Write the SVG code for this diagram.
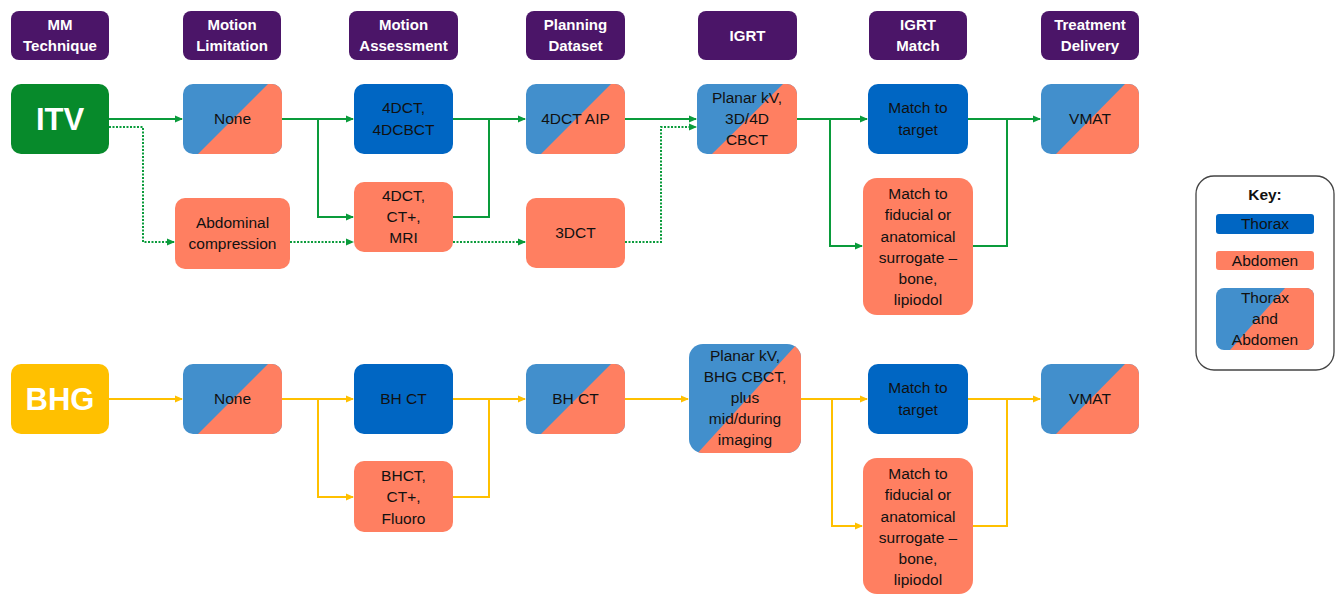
<svg xmlns="http://www.w3.org/2000/svg" width="1335" height="594" viewBox="0 0 1335 594">
<style>
text{font-family:"Liberation Sans",Arial,sans-serif;font-size:15.5px;fill:#111;text-anchor:middle}
.hd{fill:#4B1568}
.hdt{fill:#fff;font-weight:bold;font-size:15px}
.big{fill:#fff;font-weight:bold;font-size:31px}
.th{fill:#0066C3}
.lb{fill:#428FCC}
.ab{fill:#FF7F61}
.g{fill:none;stroke:#0A9B3B;stroke-width:2}
.gd{fill:none;stroke:#0A9B3B;stroke-width:2;stroke-dasharray:2 1.5}
.y{fill:none;stroke:#FFC000;stroke-width:2}
</style>
<defs>
<marker id="ag" markerWidth="8" markerHeight="8" refX="7" refY="4" orient="auto" markerUnits="userSpaceOnUse"><path d="M0,0.5 L8,4 L0,7.5 z" fill="#0A9B3B"/></marker>
<marker id="ay" markerWidth="8" markerHeight="8" refX="7" refY="4" orient="auto" markerUnits="userSpaceOnUse"><path d="M0,0.5 L8,4 L0,7.5 z" fill="#FFC000"/></marker>
<clipPath id="cpPlanar"><rect x="689" y="344" width="112" height="109" rx="14"/></clipPath>
</defs>

<g id="headers">
<g id="h1"><rect class="hd" x="11" y="11" width="98" height="49" rx="8"/><text class="hdt" x="60" y="30">MM</text><text class="hdt" x="60" y="51">Technique</text></g>
<g id="h2"><rect class="hd" x="183" y="11" width="98" height="49" rx="8"/><text class="hdt" x="232" y="30">Motion</text><text class="hdt" x="232" y="51">Limitation</text></g>
<g id="h3"><rect class="hd" x="349" y="11" width="109" height="49" rx="8"/><text class="hdt" x="403.5" y="30">Motion</text><text class="hdt" x="403.5" y="51">Assessment</text></g>
<g id="h4"><rect class="hd" x="526" y="11" width="99" height="49" rx="8"/><text class="hdt" x="575.5" y="30">Planning</text><text class="hdt" x="575.5" y="51">Dataset</text></g>
<g id="h5"><rect class="hd" x="698" y="11" width="99" height="49" rx="8"/><text class="hdt" x="747.5" y="41">IGRT</text></g>
<g id="h6"><rect class="hd" x="869" y="11" width="98" height="49" rx="8"/><text class="hdt" x="918" y="30">IGRT</text><text class="hdt" x="918" y="51">Match</text></g>
<g id="h7"><rect class="hd" x="1041" y="11" width="98" height="49" rx="8"/><text class="hdt" x="1090" y="30">Treatment</text><text class="hdt" x="1090" y="51">Delivery</text></g>
</g>

<g id="connectors">
<path class="g" d="M109,119 H182" marker-end="url(#ag)"/>
<path class="g" d="M282,119 H353" marker-end="url(#ag)"/>
<path class="g" d="M318,119 V217 H353" marker-end="url(#ag)"/>
<path class="g" d="M453,119 H525" marker-end="url(#ag)"/>
<path class="g" d="M453,217 H489 V119"/>
<path class="g" d="M625,119 H696" marker-end="url(#ag)"/>
<path class="g" d="M797,119 H867" marker-end="url(#ag)"/>
<path class="g" d="M830,119 V246 H862" marker-end="url(#ag)"/>
<path class="g" d="M968,119 H1040" marker-end="url(#ag)"/>
<path class="g" d="M973,246 H1007 V119"/>
<path class="gd" d="M109,127 H143 V242 H174" marker-end="url(#ag)"/>
<path class="gd" d="M290,242 H353" marker-end="url(#ag)"/>
<path class="gd" d="M453,242 H525" marker-end="url(#ag)"/>
<path class="gd" d="M625,242 H661 V127 H696" marker-end="url(#ag)"/>
<path class="y" d="M109,399 H182" marker-end="url(#ay)"/>
<path class="y" d="M282,399 H353" marker-end="url(#ay)"/>
<path class="y" d="M318,399 V497 H353" marker-end="url(#ay)"/>
<path class="y" d="M453,399 H525" marker-end="url(#ay)"/>
<path class="y" d="M453,497 H489 V399"/>
<path class="y" d="M625,399 H688" marker-end="url(#ay)"/>
<path class="y" d="M801,399 H867" marker-end="url(#ay)"/>
<path class="y" d="M832,399 V526 H862" marker-end="url(#ay)"/>
<path class="y" d="M968,399 H1040" marker-end="url(#ay)"/>
<path class="y" d="M973,526 H1007 V399"/>
</g>

<g id="itv"><rect x="11" y="84" width="98" height="70" rx="10" fill="#078A2B"/><text class="big" x="60" y="130">ITV</text></g>
<g id="itv-none"><rect class="lb" x="183" y="84" width="99" height="70" rx="10"/><path class="ab" d="M268,84 H272 A10,10 0 0 1 282,94 V144 A10,10 0 0 1 272,154 H198 Z"/><text x="232.5" y="124">None</text></g>
<g id="itv-4dct"><rect class="th" x="354" y="84" width="99" height="70" rx="10"/><text x="403.5" y="113">4DCT,</text><text x="403.5" y="135">4DCBCT</text></g>
<g id="itv-aip"><rect class="lb" x="526" y="84" width="99" height="70" rx="10"/><path class="ab" d="M611,84 H615 A10,10 0 0 1 625,94 V144 A10,10 0 0 1 615,154 H541 Z"/><text x="575.5" y="124">4DCT AIP</text></g>
<g id="itv-planar"><rect class="lb" x="697" y="84" width="100" height="70" rx="10"/><path class="ab" d="M783,84 H787 A10,10 0 0 1 797,94 V144 A10,10 0 0 1 787,154 H712 Z"/><text x="747" y="103">Planar kV,</text><text x="747" y="124">3D/4D</text><text x="747" y="145">CBCT</text></g>
<g id="itv-match"><rect class="th" x="868" y="84" width="100" height="70" rx="10"/><text x="918" y="113">Match to</text><text x="918" y="135">target</text></g>
<g id="itv-vmat"><rect class="lb" x="1041" y="84" width="98" height="70" rx="10"/><path class="ab" d="M1125,84 H1129 A10,10 0 0 1 1139,94 V144 A10,10 0 0 1 1129,154 H1056 Z"/><text x="1090" y="124">VMAT</text></g>
<g id="itv-abd"><rect class="ab" x="175" y="198" width="115" height="71" rx="10"/><text x="232.5" y="228">Abdominal</text><text x="232.5" y="249">compression</text></g>
<g id="itv-mri"><rect class="ab" x="354" y="182" width="99" height="70" rx="10"/><text x="403.5" y="201">4DCT,</text><text x="403.5" y="222">CT+,</text><text x="403.5" y="243">MRI</text></g>
<g id="itv-3dct"><rect class="ab" x="526" y="198" width="99" height="70" rx="10"/><text x="575.5" y="238">3DCT</text></g>
<g id="itv-fid"><rect class="ab" x="863" y="178" width="110" height="137" rx="14"/><text x="918" y="199">Match to</text><text x="918" y="220">fiducial or</text><text x="918" y="241.5">anatomical</text><text x="918" y="263">surrogate –</text><text x="918" y="284">bone,</text><text x="918" y="305">lipiodol</text></g>

<g id="bhg"><rect x="11" y="364" width="98" height="70" rx="10" fill="#FFC000"/><text class="big" x="60" y="410">BHG</text></g>
<g id="bhg-none"><rect class="lb" x="183" y="364" width="99" height="70" rx="10"/><path class="ab" d="M268,364 H272 A10,10 0 0 1 282,374 V424 A10,10 0 0 1 272,434 H198 Z"/><text x="232.5" y="404">None</text></g>
<g id="bhg-bhct"><rect class="th" x="354" y="364" width="99" height="70" rx="10"/><text x="403.5" y="404">BH CT</text></g>
<g id="bhg-fluoro"><rect class="ab" x="354" y="461" width="99" height="71" rx="10"/><text x="403.5" y="481">BHCT,</text><text x="403.5" y="502">CT+,</text><text x="403.5" y="524">Fluoro</text></g>
<g id="bhg-bhct2"><rect class="lb" x="526" y="364" width="99" height="70" rx="10"/><path class="ab" d="M611,364 H615 A10,10 0 0 1 625,374 V424 A10,10 0 0 1 615,434 H541 Z"/><text x="575.5" y="404">BH CT</text></g>
<g id="bhg-planar"><rect class="lb" x="689" y="344" width="112" height="109" rx="14"/><polygon class="ab" clip-path="url(#cpPlanar)" points="797,344 805,344 805,456 695,456"/><text x="745" y="361">Planar kV,</text><text x="745" y="382">BHG CBCT,</text><text x="745" y="403">plus</text><text x="745" y="424">mid/during</text><text x="745" y="445">imaging</text></g>
<g id="bhg-match"><rect class="th" x="868" y="364" width="100" height="70" rx="10"/><text x="918" y="393">Match to</text><text x="918" y="415">target</text></g>
<g id="bhg-vmat"><rect class="lb" x="1041" y="364" width="98" height="70" rx="10"/><path class="ab" d="M1125,364 H1129 A10,10 0 0 1 1139,374 V424 A10,10 0 0 1 1129,434 H1056 Z"/><text x="1090" y="404">VMAT</text></g>
<g id="bhg-fid"><rect class="ab" x="863" y="458" width="110" height="136" rx="14"/><text x="918" y="479">Match to</text><text x="918" y="500">fiducial or</text><text x="918" y="521.5">anatomical</text><text x="918" y="543">surrogate –</text><text x="918" y="564">bone,</text><text x="918" y="585">lipiodol</text></g>

<g id="key">
<rect x="1196" y="176" width="138" height="194" rx="18" fill="#fff" stroke="#444" stroke-width="1.3"/>
<text x="1265" y="200" style="font-weight:bold">Key:</text>
<rect class="th" x="1216" y="214" width="98" height="20" rx="3"/><text x="1265" y="229">Thorax</text>
<rect class="ab" x="1216" y="251" width="98" height="19" rx="3"/><text x="1265" y="266">Abdomen</text>
<rect class="lb" x="1216" y="288" width="98" height="62" rx="8"/><path class="ab" d="M1285,288 H1306 A8,8 0 0 1 1314,296 V342 A8,8 0 0 1 1306,350 H1230 Z"/>
<text x="1265" y="303">Thorax</text><text x="1265" y="324">and</text><text x="1265" y="345">Abdomen</text>
</g>
</svg>
